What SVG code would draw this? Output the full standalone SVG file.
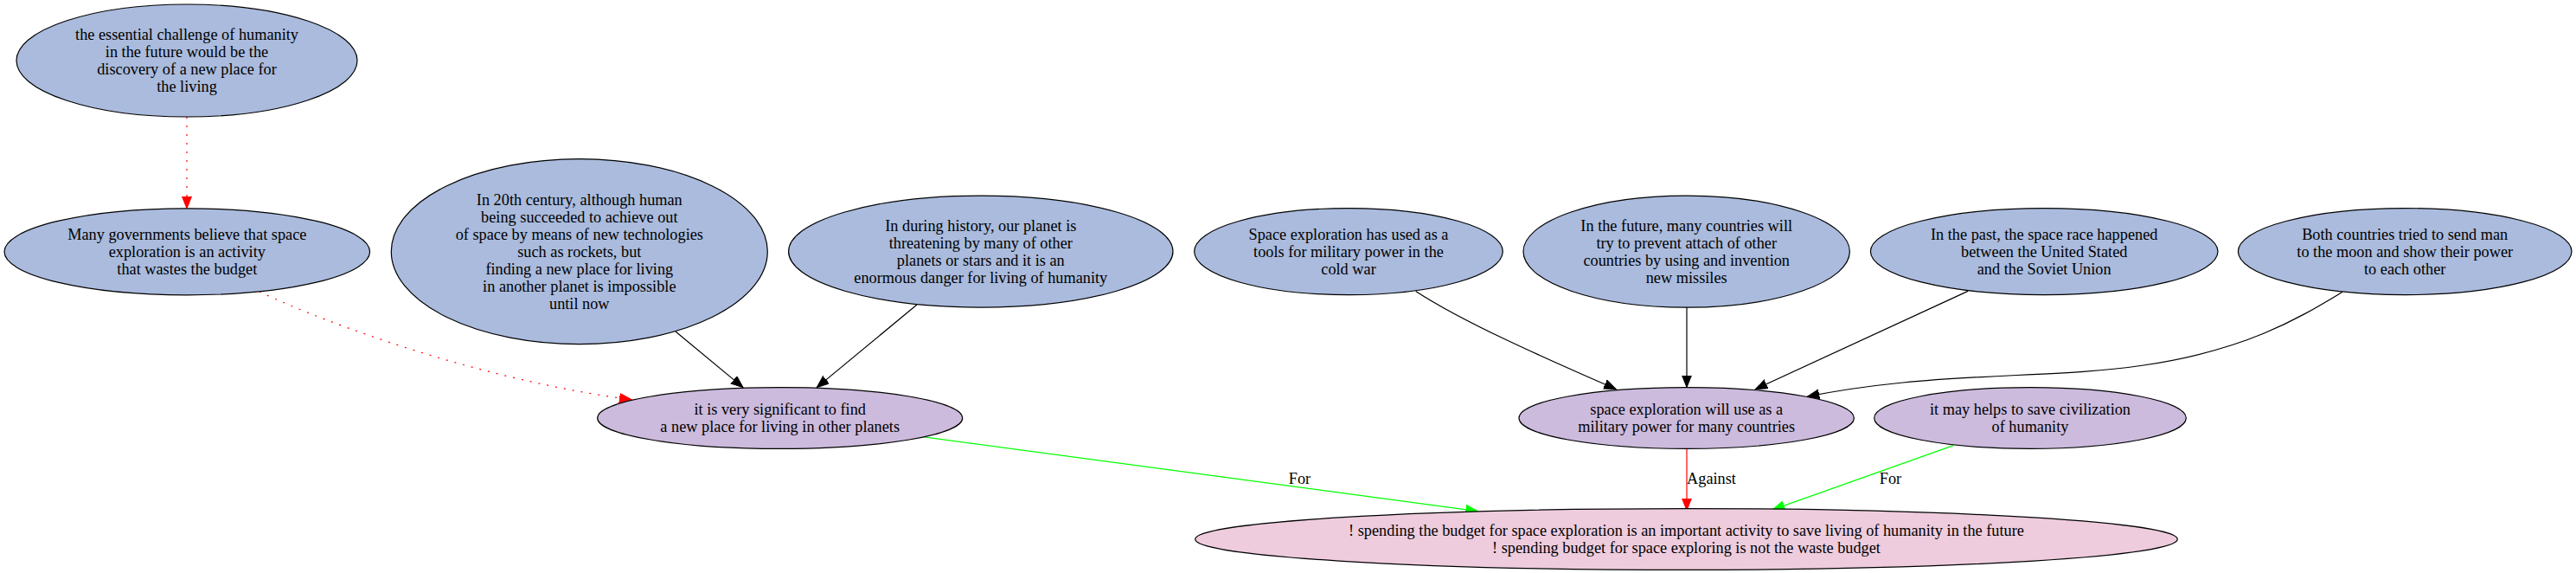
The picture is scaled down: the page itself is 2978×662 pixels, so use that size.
<svg xmlns="http://www.w3.org/2000/svg" width="2978" height="662" viewBox="0 0 2978 662">
<style>
text{font-family:"Liberation Serif","Times New Roman",serif;font-size:18.3px;fill:#000;text-anchor:middle}
.n{stroke:#000;stroke-width:1.2}
.blue{fill:#aabbdd}
.purple{fill:#ccbbdd}
.pink{fill:#eeccdd}
.e{fill:none;stroke-width:1.2}
.blk{stroke:#000}
.red{stroke:#ff0000}
.grn{stroke:#00ff00}
.dot{stroke-dasharray:2,8}
</style>
<defs>
<marker id="ab" markerUnits="userSpaceOnUse" markerWidth="16" markerHeight="12" refX="14" refY="5.5" orient="auto"><path d="M0,0 L14,5.5 L0,11 z" fill="#000" stroke="#000" stroke-width="1"/></marker>
<marker id="ar" markerUnits="userSpaceOnUse" markerWidth="16" markerHeight="12" refX="14" refY="5.5" orient="auto"><path d="M0,0 L14,5.5 L0,11 z" fill="#ff0000" stroke="#ff0000" stroke-width="1"/></marker>
<marker id="ag" markerUnits="userSpaceOnUse" markerWidth="16" markerHeight="12" refX="14" refY="5.5" orient="auto"><path d="M0,0 L14,5.5 L0,11 z" fill="#00ff00" stroke="#00ff00" stroke-width="1"/></marker>
</defs>
<rect width="2978" height="662" fill="#fff"/>
<g id="edges">
<path class="e red dot" d="M216,135 L216,241" marker-end="url(#ar)"/>
<path class="e red dot" d="M300,337 C380,375 560,440 730,461.6" marker-end="url(#ar)"/>
<path class="e blk" d="M781,383 L859,447.6" marker-end="url(#ab)"/>
<path class="e blk" d="M1060,352 L944.3,447.6" marker-end="url(#ab)"/>
<path class="e grn" d="M1068.3,504.9 L1708.3,590.6" marker-end="url(#ag)"/>
<text x="1502.5" y="559">For</text>
<path class="e blk" d="M1636.7,336.4 C1696.7,375.4 1798.3,418.9 1868.3,449.7" marker-end="url(#ab)"/>
<path class="e blk" d="M1950,355 L1950,447.6" marker-end="url(#ab)"/>
<path class="e blk" d="M2275,336.4 L2029.3,449.7" marker-end="url(#ab)"/>
<path class="e blk" d="M2708,337.3 C2660,366 2600,404 2478,422 C2400,434 2300,432 2200,442 C2160,446 2120,452 2089.3,458.2" marker-end="url(#ab)"/>
<path class="e red" d="M1950,518.5 L1950,589.7" marker-end="url(#ar)"/>
<text x="1978.5" y="559">Against</text>
<path class="e grn" d="M2258.3,514.6 L2049.3,588.9" marker-end="url(#ag)"/>
<text x="2185.5" y="559">For</text>
</g>
<g id="nodeA">
<ellipse class="n blue" cx="216" cy="70" rx="197" ry="65"/>
<text x="216" y="46">the essential challenge of humanity</text>
<text x="216" y="66">in the future would be the</text>
<text x="216" y="86">discovery of a new place for</text>
<text x="216" y="106">the living</text>
</g>
<g id="nodeB">
<ellipse class="n blue" cx="216.3" cy="290.8" rx="211.3" ry="50"/>
<text x="216.3" y="276.8">Many governments believe that space</text>
<text x="216.3" y="296.8">exploration is an activity</text>
<text x="216.3" y="316.8">that wastes the budget</text>
</g>
<g id="nodeC">
<ellipse class="n blue" cx="669.8" cy="290.6" rx="217.5" ry="107"/>
<text x="669.8" y="236.6">In 20th century, although human</text>
<text x="669.8" y="256.6">being succeeded to achieve out</text>
<text x="669.8" y="276.6">of space by means of new technologies</text>
<text x="669.8" y="296.6">such as rockets, but</text>
<text x="669.8" y="316.6">finding a new place for living</text>
<text x="669.8" y="336.6">in another planet is impossible</text>
<text x="669.8" y="356.6">until now</text>
</g>
<g id="nodeD">
<ellipse class="n purple" cx="901.7" cy="483" rx="211" ry="35.4"/>
<text x="901.7" y="479">it is very significant to find</text>
<text x="901.7" y="499">a new place for living in other planets</text>
</g>
<g id="nodeE">
<ellipse class="n blue" cx="1133.8" cy="290.6" rx="222.2" ry="64.5"/>
<text x="1133.8" y="266.6">In during history, our planet is</text>
<text x="1133.8" y="286.6">threatening by many of other</text>
<text x="1133.8" y="306.6">planets or stars and it is an</text>
<text x="1133.8" y="326.6">enormous danger for living of humanity</text>
</g>
<g id="nodeF">
<ellipse class="n blue" cx="1559" cy="290.6" rx="178.3" ry="50"/>
<text x="1559" y="276.6">Space exploration has used as a</text>
<text x="1559" y="296.6">tools for military power in the</text>
<text x="1559" y="316.6">cold war</text>
</g>
<g id="nodeG">
<ellipse class="n blue" cx="1949.7" cy="290.6" rx="188.7" ry="64.5"/>
<text x="1949.7" y="266.6">In the future, many countries will</text>
<text x="1949.7" y="286.6">try to prevent attach of other</text>
<text x="1949.7" y="306.6">countries by using and invention</text>
<text x="1949.7" y="326.6">new missiles</text>
</g>
<g id="nodeH">
<ellipse class="n purple" cx="1949.7" cy="483" rx="193.7" ry="35.4"/>
<text x="1949.7" y="479">space exploration will use as a</text>
<text x="1949.7" y="499">military power for many countries</text>
</g>
<g id="nodeI">
<ellipse class="n blue" cx="2363.2" cy="290.6" rx="200.8" ry="50"/>
<text x="2363.2" y="276.6">In the past, the space race happened</text>
<text x="2363.2" y="296.6">between the United Stated</text>
<text x="2363.2" y="316.6">and the Soviet Union</text>
</g>
<g id="nodeJ">
<ellipse class="n blue" cx="2780.2" cy="290.6" rx="192.8" ry="50"/>
<text x="2780.2" y="276.6">Both countries tried to send man</text>
<text x="2780.2" y="296.6">to the moon and show their power</text>
<text x="2780.2" y="316.6">to each other</text>
</g>
<g id="nodeK">
<ellipse class="n purple" cx="2347" cy="483" rx="180.3" ry="35.4"/>
<text x="2347" y="479">it may helps to save civilization</text>
<text x="2347" y="499">of humanity</text>
</g>
<g id="nodeZ">
<ellipse class="n pink" cx="1949.5" cy="623" rx="567.8" ry="35.4"/>
<text x="1949.5" y="619">! spending the budget for space exploration is an important activity to save living of humanity in the future</text>
<text x="1949.5" y="639">! spending budget for space exploring is not the waste budget</text>
</g>
</svg>
